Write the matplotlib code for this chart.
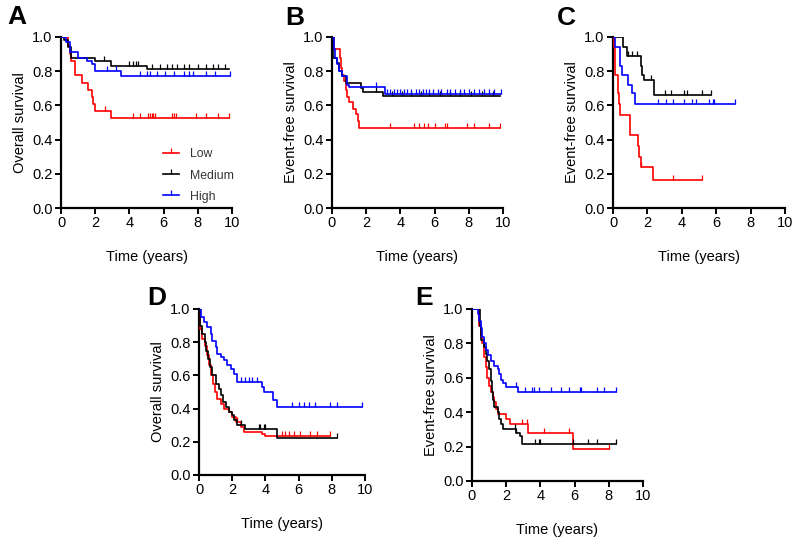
import matplotlib
matplotlib.use("Agg")
import matplotlib.pyplot as plt
from matplotlib.path import Path
from matplotlib.lines import Line2D
import numpy as np

plt.rcParams['font.family'] = ['Liberation Sans', 'DejaVu Sans']

####  DATA  (drop times, survival after each drop, end time, censor times)

##  Panel A - overall survival
a_low_t = [0.4, 0.5, 0.6, 0.8, 1.2, 1.6, 1.8, 1.9, 2.0, 2.9]
a_low_s = [0.95, 0.90, 0.86, 0.78, 0.73, 0.69, 0.65, 0.61, 0.57, 0.525]
a_low_end = 9.8
a_low_c = [2.6, 4.2, 4.6, 5.1, 5.2, 5.3, 5.4, 5.5, 6.5, 6.6, 6.7, 7.9, 8.5, 9.2, 9.8]

a_med_t = [0.2, 0.4, 0.6, 2.0, 2.9, 5.0]
a_med_s = [0.98, 0.94, 0.88, 0.86, 0.83, 0.81]
a_med_end = 9.8
a_med_c = [2.5, 4.0, 4.2, 4.4, 4.5, 5.3, 5.8, 6.2, 6.5, 6.8, 7.2, 7.5, 8.0, 8.5, 8.9, 9.2, 9.6]

a_high_t = [0.3, 0.5, 1.0, 1.5, 1.8, 2.0, 3.5]
a_high_s = [0.97, 0.91, 0.88, 0.86, 0.84, 0.80, 0.77]
a_high_end = 9.9
a_high_c = [2.7, 3.2, 4.6, 5.0, 5.2, 5.6, 6.1, 6.6, 7.2, 7.5, 7.7, 8.5, 9.0, 9.9]

##  Panel B - event-free survival
b_low_t = [0.1, 0.45, 0.5, 0.6, 0.7, 0.8, 0.9, 1.0, 1.2, 1.4, 1.5, 1.6]
b_low_s = [0.93, 0.88, 0.82, 0.78, 0.74, 0.69, 0.65, 0.62, 0.58, 0.55, 0.51, 0.47]
b_low_end = 9.8
b_low_c = [3.4, 4.8, 5.1, 5.4, 5.6, 6.0, 6.6, 6.7, 7.9, 8.3, 9.2, 9.8]

b_med_t = [0.05, 0.3, 0.4, 0.6, 0.8, 1.7, 1.8, 3.0]
b_med_s = [0.88, 0.85, 0.80, 0.77, 0.73, 0.70, 0.68, 0.655]
b_med_end = 9.8
b_med_c = [2.6, 3.5, 4.1, 4.6, 5.2, 5.7, 6.3, 6.9, 7.5, 8.1, 8.8, 9.4]

b_high_t = [0.1, 0.2, 0.3, 0.4, 0.6, 0.9, 1.0, 3.1]
b_high_s = [0.93, 0.88, 0.84, 0.80, 0.77, 0.72, 0.71, 0.665]
b_high_end = 9.9
b_high_c = [2.6, 3.2, 3.4, 3.6, 3.8, 4.0, 4.2, 4.4, 4.6, 4.9, 5.1, 5.3, 5.5, 5.7,
            5.9, 6.2, 6.4, 6.7, 6.9, 7.2, 7.5, 7.7, 8.0, 8.3, 8.6, 8.9, 9.2, 9.5, 9.9]

##  Panel C - event-free survival
c_low_t = [0.05, 0.1, 0.3, 0.35, 0.4, 1.0, 1.45, 1.5, 1.6, 2.3]
c_low_s = [0.94, 0.78, 0.67, 0.61, 0.545, 0.425, 0.36, 0.30, 0.24, 0.165]
c_low_end = 5.2
c_low_c = [1.65, 3.5, 5.2]

c_med_t = [0.6, 0.8, 1.6, 1.7, 1.8, 2.4]
c_med_s = [0.94, 0.89, 0.83, 0.78, 0.75, 0.66]
c_med_end = 5.7
c_med_c = [0.9, 1.1, 1.4, 2.2, 3.0, 3.4, 4.1, 4.3, 5.2, 5.7]

c_high_t = [0.1, 0.4, 0.55, 0.87, 1.1, 1.3]
c_high_s = [0.94, 0.83, 0.78, 0.72, 0.67, 0.61]
c_high_end = 7.1
c_high_c = [2.6, 3.1, 3.5, 4.1, 4.6, 4.8, 5.6, 5.8, 5.9, 7.1]

##  Panel D - overall survival
d_low_t = [0.05, 0.2, 0.35, 0.5, 0.6, 0.75, 0.85, 0.95, 1.1, 1.3, 1.5, 1.8, 2.0, 2.2, 2.5, 2.7, 3.8, 4.0]
d_low_s = [0.88, 0.82, 0.78, 0.72, 0.66, 0.60, 0.55, 0.50, 0.46, 0.43, 0.40, 0.38, 0.35, 0.32, 0.29, 0.26, 0.25, 0.235]
d_low_end = 7.9
d_low_c = [2.3, 5.0, 5.2, 5.4, 5.7, 6.1, 6.7, 7.1, 7.9]

d_med_t = [0.05, 0.2, 0.35, 0.45, 0.55, 0.65, 0.8, 1.0, 1.2, 1.35, 1.45, 1.6, 1.8, 2.0, 2.1, 2.3, 2.8, 4.7]
d_med_s = [0.90, 0.85, 0.80, 0.75, 0.70, 0.65, 0.60, 0.55, 0.52, 0.48, 0.44, 0.41, 0.38, 0.36, 0.33, 0.30, 0.28, 0.225]
d_med_end = 8.3
d_med_c = [2.5, 3.6, 3.7, 3.9, 4.0, 8.3]

d_high_t = [0.1, 0.3, 0.5, 0.7, 0.8, 1.0, 1.1, 1.3, 1.5, 1.7, 1.9, 2.1, 2.3, 3.8, 3.9, 4.45, 4.7]
d_high_s = [0.95, 0.92, 0.89, 0.85, 0.81, 0.77, 0.73, 0.71, 0.69, 0.66, 0.64, 0.61, 0.56, 0.53, 0.50, 0.45, 0.41]
d_high_end = 9.8
d_high_c = [2.5, 2.8, 3.0, 3.2, 3.5, 5.6, 6.0, 6.3, 6.6, 7.0, 7.9, 8.3, 9.8]

##  Panel E - event-free survival
e_low_t = [0.4, 0.5, 0.6, 0.7, 0.8, 0.9, 1.0, 1.1, 1.2, 1.3, 1.4, 1.5, 2.0, 2.2, 3.3, 5.9]
e_low_s = [0.90, 0.85, 0.80, 0.72, 0.66, 0.60, 0.55, 0.52, 0.49, 0.46, 0.42, 0.39, 0.36, 0.33, 0.28, 0.185]
e_low_end = 8.0
e_low_c = [2.9, 3.2, 4.2, 5.7, 8.0]

e_med_t = [0.45, 0.55, 0.7, 0.8, 0.9, 1.0, 1.1, 1.15, 1.2, 1.3, 1.5, 1.6, 1.7, 1.8, 2.6, 2.8, 2.95]
e_med_s = [0.90, 0.82, 0.78, 0.74, 0.70, 0.65, 0.58, 0.52, 0.47, 0.43, 0.40, 0.36, 0.33, 0.30, 0.28, 0.26, 0.215]
e_med_end = 8.4
e_med_c = [2.5, 2.6, 3.7, 3.9, 4.0, 5.9, 6.8, 7.3, 8.4]

e_high_t = [0.35, 0.4, 0.5, 0.6, 0.7, 0.8, 0.95, 1.1, 1.3, 1.5, 1.6, 1.7, 1.8, 2.0, 2.7]
e_high_s = [0.97, 0.93, 0.89, 0.84, 0.80, 0.76, 0.73, 0.70, 0.67, 0.65, 0.62, 0.59, 0.57, 0.545, 0.52]
e_high_end = 8.4
e_high_c = [0.1, 2.6, 3.1, 3.5, 3.6, 3.9, 4.6, 5.2, 5.7, 6.3, 6.4, 7.3, 7.7, 8.4]

group_names = ['Low', 'Medium', 'High']

RED = '#ff0000'
BLACK = '#000000'
BLUE = '#0000ff'

##  upward-only censor tick
CENSOR = Path([(0, 0), (0, 1)], [Path.MOVETO, Path.LINETO])


def km_curve(ax, times, surv, end, cens, color):
    xs = [0.0] + list(times) + [end]
    ys = [1.0] + list(surv) + [surv[-1]]
    ax.plot(xs, ys, drawstyle='steps-post', color=color, lw=1.2, zorder=3)
    cy = []
    for c in cens:
        idx = np.searchsorted(times, c, side='right')
        cy.append(1.0 if idx == 0 else surv[idx - 1])
    ax.plot(cens, cy, ls='none', marker=CENSOR, markersize=6.5,
            markeredgewidth=0.9, color=color, zorder=3)


def style_axes(ax, ylabel, letter, letter_xy):
    ax.set_xlim(0, 10)
    ax.set_ylim(0, 1.0)
    ax.set_xticks([0, 2, 4, 6, 8, 10])
    ax.set_yticks([0.0, 0.2, 0.4, 0.6, 0.8, 1.0])
    ax.set_yticklabels(['%.1f' % v for v in [0.0, 0.2, 0.4, 0.6, 0.8, 1.0]])
    for s in ['top', 'right']:
        ax.spines[s].set_visible(False)
    for s in ['left', 'bottom']:
        ax.spines[s].set_linewidth(1.6)
    ax.tick_params(direction='out', length=4, width=1.4, labelsize=10.5, pad=2)
    ax.set_ylabel(ylabel, fontsize=10.5, labelpad=4)
    ax.set_xlabel('Time (years)', fontsize=10.5, labelpad=14)
    ax.figure.text(letter_xy[0], letter_xy[1], letter, fontsize=19,
                   fontweight='bold', ha='center', va='center')


fig = plt.figure(figsize=(8.0, 5.44), dpi=100)

W, H = 800.0, 544.0
def ax_at(x0, y0, x1, y1):
    return fig.add_axes([x0 / W, 1 - y1 / H, (x1 - x0) / W, (y1 - y0) / H])

axA = ax_at(61, 37, 232, 208)
axB = ax_at(332, 37, 503, 208)
axC = ax_at(613, 37, 785, 208)
axD = ax_at(199, 309, 365, 475)
axE = ax_at(472, 309, 643, 481)

km_curve(axA, a_low_t, a_low_s, a_low_end, a_low_c, RED)
km_curve(axA, a_med_t, a_med_s, a_med_end, a_med_c, BLACK)
km_curve(axA, a_high_t, a_high_s, a_high_end, a_high_c, BLUE)

km_curve(axB, b_low_t, b_low_s, b_low_end, b_low_c, RED)
km_curve(axB, b_med_t, b_med_s, b_med_end, b_med_c, BLACK)
km_curve(axB, b_high_t, b_high_s, b_high_end, b_high_c, BLUE)

km_curve(axC, c_low_t, c_low_s, c_low_end, c_low_c, RED)
km_curve(axC, c_med_t, c_med_s, c_med_end, c_med_c, BLACK)
km_curve(axC, c_high_t, c_high_s, c_high_end, c_high_c, BLUE)

km_curve(axD, d_low_t, d_low_s, d_low_end, d_low_c, RED)
km_curve(axD, d_med_t, d_med_s, d_med_end, d_med_c, BLACK)
km_curve(axD, d_high_t, d_high_s, d_high_end, d_high_c, BLUE)

km_curve(axE, e_low_t, e_low_s, e_low_end, e_low_c, RED)
km_curve(axE, e_med_t, e_med_s, e_med_end, e_med_c, BLACK)
km_curve(axE, e_high_t, e_high_s, e_high_end, e_high_c, BLUE)

style_axes(axA, 'Overall survival', 'A', (17 / W, 1 - 17 / H))
style_axes(axB, 'Event-free survival', 'B', (295 / W, 1 - 18 / H))
style_axes(axC, 'Event-free survival', 'C', (566 / W, 1 - 18 / H))
style_axes(axD, 'Overall survival', 'D', (157 / W, 1 - 298 / H))
style_axes(axE, 'Event-free survival', 'E', (424 / W, 1 - 298 / H))

##  legend in panel A
handles = [Line2D([0], [0], color=c, lw=1.2, marker=CENSOR, markersize=6.5,
                  markeredgewidth=0.9) for c in (RED, BLACK, BLUE)]
axA.legend(handles, group_names, loc='center left',
           bbox_to_anchor=(0.53, 0.19), frameon=False, fontsize=8.8,
           handlelength=1.35, handletextpad=0.9, labelspacing=0.75,
           labelcolor='#333333', numpoints=1)

fig.savefig('out.png', dpi=100)
